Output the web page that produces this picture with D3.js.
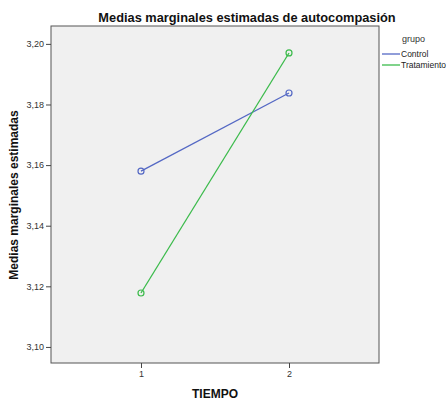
<!DOCTYPE html>
<html><head><meta charset="utf-8">
<script src="https://cdn.jsdelivr.net/npm/d3@7"></script>
<style>body{margin:0;background:#fff}svg{display:block}text{font-family:"Liberation Sans",Arial,sans-serif}</style>
</head><body>
<script>
const tiempos = [1, 2];
const grupos = ["Control", "Tratamiento"];
const controlValues = [3.158, 3.1838];
const tratamientoValues = [3.1178, 3.197];
const yTicks = [3.10, 3.12, 3.14, 3.16, 3.18, 3.20];
const colors = ["#5468c4", "#3cbb4c"];

const W = 446, H = 401;
const m = {left: 51, right: 379, top: 26, bottom: 363};
const svg = d3.select("body").append("svg").attr("width", W).attr("height", H);

const x = d3.scaleLinear().domain([0.392, 2.608]).range([m.left, m.right]);
const y = d3.scaleLinear().domain([3.0947, 3.2059]).range([m.bottom, m.top]);

svg.append("rect").attr("x", m.left).attr("y", m.top)
  .attr("width", m.right - m.left).attr("height", m.bottom - m.top)
  .attr("fill", "#f0f0f0").attr("stroke", "#555").attr("stroke-width", 1);

const fmt = d => d3.format(".2f")(d).replace(".", ",");
const yAxis = svg.append("g").attr("transform", `translate(${m.left},0)`)
  .call(d3.axisLeft(y).tickValues(yTicks).tickFormat(fmt).tickSize(5).tickPadding(2));
yAxis.select(".domain").remove();
yAxis.selectAll("text").attr("font-size", 9).attr("fill", "#333");
yAxis.selectAll("line").attr("stroke", "#444");

const xAxis = svg.append("g").attr("transform", `translate(0,${m.bottom})`)
  .call(d3.axisBottom(x).tickValues(tiempos).tickFormat(d3.format("d")).tickSize(5).tickPadding(3));
xAxis.select(".domain").remove();
xAxis.selectAll("text").attr("font-size", 9).attr("fill", "#333");
xAxis.selectAll("line").attr("stroke", "#444");

svg.append("text").attr("x", 247).attr("y", 22).attr("text-anchor", "middle")
  .attr("font-size", 12.8).attr("font-weight", "bold").attr("fill", "#111")
  .text("Medias marginales estimadas de autocompasión");
svg.append("text").attr("transform", "translate(18,195) rotate(-90)").attr("text-anchor", "middle")
  .attr("font-size", 12).attr("font-weight", "bold").attr("fill", "#111")
  .text("Medias marginales estimadas");
svg.append("text").attr("x", 215).attr("y", 398).attr("text-anchor", "middle")
  .attr("font-size", 12).attr("font-weight", "bold").attr("fill", "#111")
  .text("TIEMPO");

const series = [controlValues, tratamientoValues];
const line = d3.line().x((d, i) => x(tiempos[i])).y(d => y(d));
series.forEach((vals, k) => {
  svg.append("path").datum(vals).attr("d", line).attr("fill", "none")
    .attr("stroke", colors[k]).attr("stroke-width", 1.3);
  svg.selectAll(null).data(vals).enter().append("circle")
    .attr("cx", (d, i) => x(tiempos[i])).attr("cy", d => y(d)).attr("r", 3)
    .attr("fill", "none").attr("stroke", colors[k]).attr("stroke-width", 1.2);
});

svg.append("text").attr("x", 402).attr("y", 42).attr("font-size", 9).attr("fill", "#333").text("grupo");
grupos.forEach((g, k) => {
  const yy = 54 + k * 11;
  svg.append("line").attr("x1", 382).attr("x2", 400).attr("y1", yy).attr("y2", yy)
    .attr("stroke", colors[k]).attr("stroke-width", 1.3);
  svg.append("text").attr("x", 401).attr("y", yy + 3).attr("font-size", 8.5).attr("fill", "#222").text(g);
});
</script>
</body></html>
